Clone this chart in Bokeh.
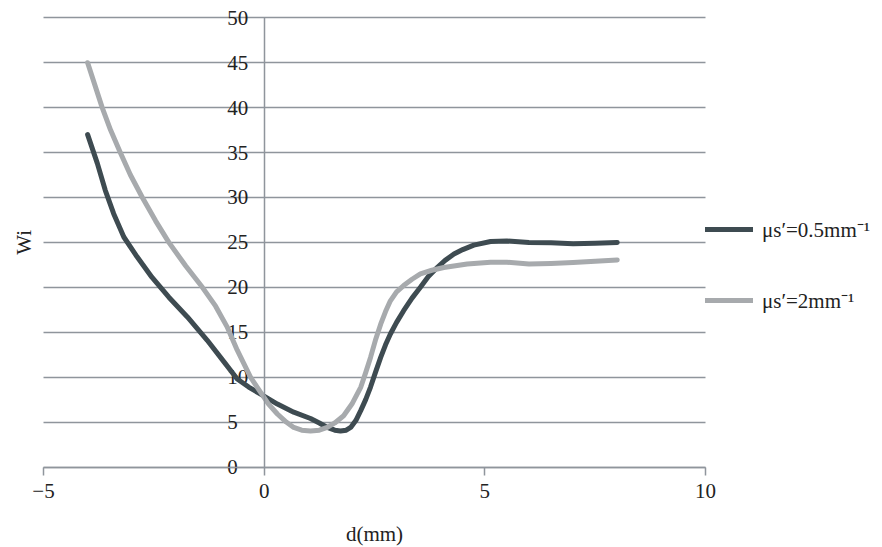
import math
from bokeh.plotting import figure
from bokeh.models import Range1d, FixedTicker, Legend, LegendItem, Label, Grid
from bokeh.core.properties import value
from bokeh.embed import file_html
from bokeh.resources import INLINE

# ---- data ----
dark_x = [-4.0, -3.78, -3.6, -3.41, -3.18, -2.88, -2.54, -2.16, -1.74, -1.29, -0.91, -0.61, -0.35, -0.08,
          0.3, 0.67, 1.05, 1.25, 1.43, 1.6, 1.73, 1.86, 1.96, 2.08, 2.19, 2.3, 2.41, 2.52, 2.64, 2.75, 2.86,
          3.0, 3.16, 3.35, 3.54, 3.72, 3.92, 4.1, 4.3, 4.5, 4.75, 5.13,
          5.5, 6.0, 6.5, 7.0, 7.5, 8.0]
dark_y = [37.0, 33.8, 30.8, 28.2, 25.6, 23.4, 21.1, 18.9, 16.7, 14.1, 11.7, 9.8, 8.9, 8.1,
          7.0, 6.1, 5.4, 4.9, 4.4, 4.1, 4.0, 4.1, 4.4, 5.2, 6.3, 7.5, 8.9, 10.5, 12.2, 13.6, 14.8,
          16.1, 17.4, 18.8, 20.0, 21.2, 22.2, 23.0, 23.7, 24.2, 24.7, 25.1,
          25.15, 25.0, 24.95, 24.85, 24.9, 25.0]

light_x = [-4.0, -3.67, -3.48, -3.26, -3.03, -2.76, -2.46, -2.16, -1.78, -1.4, -1.1, -0.84, -0.61, -0.31, -0.08,
           0.1, 0.3, 0.5, 0.67, 0.85, 1.05, 1.25, 1.43, 1.6, 1.8, 2.0, 2.19, 2.3, 2.41, 2.52, 2.64, 2.75, 2.86,
           3.0, 3.16, 3.35, 3.54, 3.8, 4.07, 4.6, 5.13,
           5.5, 6.0, 6.5, 7.0, 7.5, 8.0]
light_y = [45.0, 40.0, 37.5, 35.0, 32.5, 30.0, 27.4, 25.0, 22.4, 20.0, 17.9, 15.6, 13.0, 10.0, 8.3,
           7.0, 5.9, 5.0, 4.4, 4.1, 4.0, 4.1, 4.4, 4.9, 5.7, 7.1, 8.9, 10.5, 12.2, 14.1, 15.9, 17.3, 18.5,
           19.5, 20.2, 20.9, 21.5, 21.9, 22.2, 22.6, 22.8,
           22.8, 22.6, 22.65, 22.75, 22.9, 23.05]

series_labels = ["\u03bcs\u2032=0.5mm\u207b\u00b9", "\u03bcs\u2032=2mm\u207b\u00b9"]

x_ticks = [-5, 0, 5, 10]
x_tick_labels = ["\u22125", "0", "5", "10"]
y_ticks = [0, 5, 10, 15, 20, 25, 30, 35, 40, 45, 50]
y_tick_labels = [str(t) for t in y_ticks]

x_title = "d(mm)"
y_title = "Wi"

# ---- layout (pixels of the 882x547 canvas) ----
W, H = 882, 547
PX_LEFT, PX_RIGHT = 43.0, 705.0     # screen x of x_ticks[0] and x_ticks[-1]
PX_ZERO, PX_TOP = 466.5, 17.3       # screen y of y_ticks[0] and y_ticks[-1]
x0, x1 = x_ticks[0], x_ticks[-1]
y0, y1 = y_ticks[0], y_ticks[-1]
sx = (PX_RIGHT - PX_LEFT) / (x1 - x0)
sy = (PX_ZERO - PX_TOP) / (y1 - y0)
x_range = Range1d(x0 - PX_LEFT / sx, x1 + (W - PX_RIGHT) / sx)
y_range = Range1d(y0 - (H - PX_ZERO) / sy, y1 + PX_TOP / sy)

# ---- styling ----
FONT = "Liberation Serif"
FS = "21px"
DARK = "#3e4b51"
LIGHT = "#a7aaad"
GRID = "#8f959c"
TEXT = "#222222"

p = figure(width=W, height=H, x_range=x_range, y_range=y_range,
           output_backend="svg", toolbar_location=None,
           min_border_left=0, min_border_right=0, min_border_top=0, min_border_bottom=0)
p.outline_line_color = None
p.background_fill_color = "white"
p.border_fill_color = "white"

p.xgrid.visible = False
yg = p.ygrid[0]
yg.ticker = FixedTicker(ticks=y_ticks)
yg.grid_line_color = GRID
yg.grid_line_width = 1.5
yg.bounds = (y0, y1)
if "cross_bounds" in Grid.properties():
    yg.cross_bounds = (x0, x1)
else:
    yg.visible = False
    p.segment(x0=[x0] * len(y_ticks), x1=[x1] * len(y_ticks), y0=y_ticks, y1=y_ticks,
              line_color=GRID, line_width=1.5)

# x axis at y = 0
xa = p.xaxis[0]
xa.fixed_location = 0
xa.bounds = (x0, x1)
xa.ticker = FixedTicker(ticks=x_ticks)
xa.major_label_overrides = {t: l for t, l in zip(x_ticks, x_tick_labels)}
xa.axis_line_color = GRID
xa.axis_line_width = 1.5
xa.major_tick_line_color = GRID
xa.major_tick_line_width = 1.5
xa.major_tick_in = 0
xa.major_tick_out = 8
xa.minor_tick_line_color = None
xa.major_label_text_font = FONT
xa.major_label_text_font_size = FS
xa.major_label_text_color = TEXT
xa.major_label_standoff = 9
xa.axis_label = x_title
xa.axis_label_text_font = FONT
xa.axis_label_text_font_size = FS
xa.axis_label_text_font_style = "normal"
xa.axis_label_text_color = TEXT
xa.axis_label_standoff = 20

# y axis crossing at x = 0 (its tick labels are drawn left-aligned below)
ya = p.yaxis[0]
ya.fixed_location = 0
ya.bounds = (y0, y1)
ya.ticker = FixedTicker(ticks=y_ticks)
ya.axis_line_color = GRID
ya.axis_line_width = 1.5
ya.major_tick_line_color = None
ya.minor_tick_line_color = None
ya.major_tick_in = 0
ya.major_tick_out = 0
ya.major_label_text_color = None

p.text(x=[0] * len(y_ticks), y=y_ticks, text=y_tick_labels, x_offset=-37,
       text_align="left", text_baseline="middle", text_font=value(FONT),
       text_font_size=FS, text_color=TEXT)

# y title on the far left
p.add_layout(Label(x=x0, y=(y0 + y1) / 2, x_offset=-20, text=y_title, angle=math.pi / 2,
                   text_align="center", text_baseline="middle", text_font=FONT,
                   text_font_size=FS, text_color=TEXT))

r1 = p.line(dark_x, dark_y, line_color=DARK, line_width=5, line_cap="round", line_join="round")
r2 = p.line(light_x, light_y, line_color=LIGHT, line_width=5, line_cap="round", line_join="round")

legend = Legend(items=[LegendItem(label=series_labels[0], renderers=[r1]),
                       LegendItem(label=series_labels[1], renderers=[r2])],
                location=(705, 233), glyph_width=48, glyph_height=20, label_height=20,
                label_standoff=9, spacing=43, padding=0, margin=0,
                border_line_color=None, background_fill_alpha=0,
                label_text_font=FONT, label_text_font_size=FS, label_text_color=TEXT)
p.add_layout(legend)

open("out.html", "w").write(file_html(p, INLINE))
